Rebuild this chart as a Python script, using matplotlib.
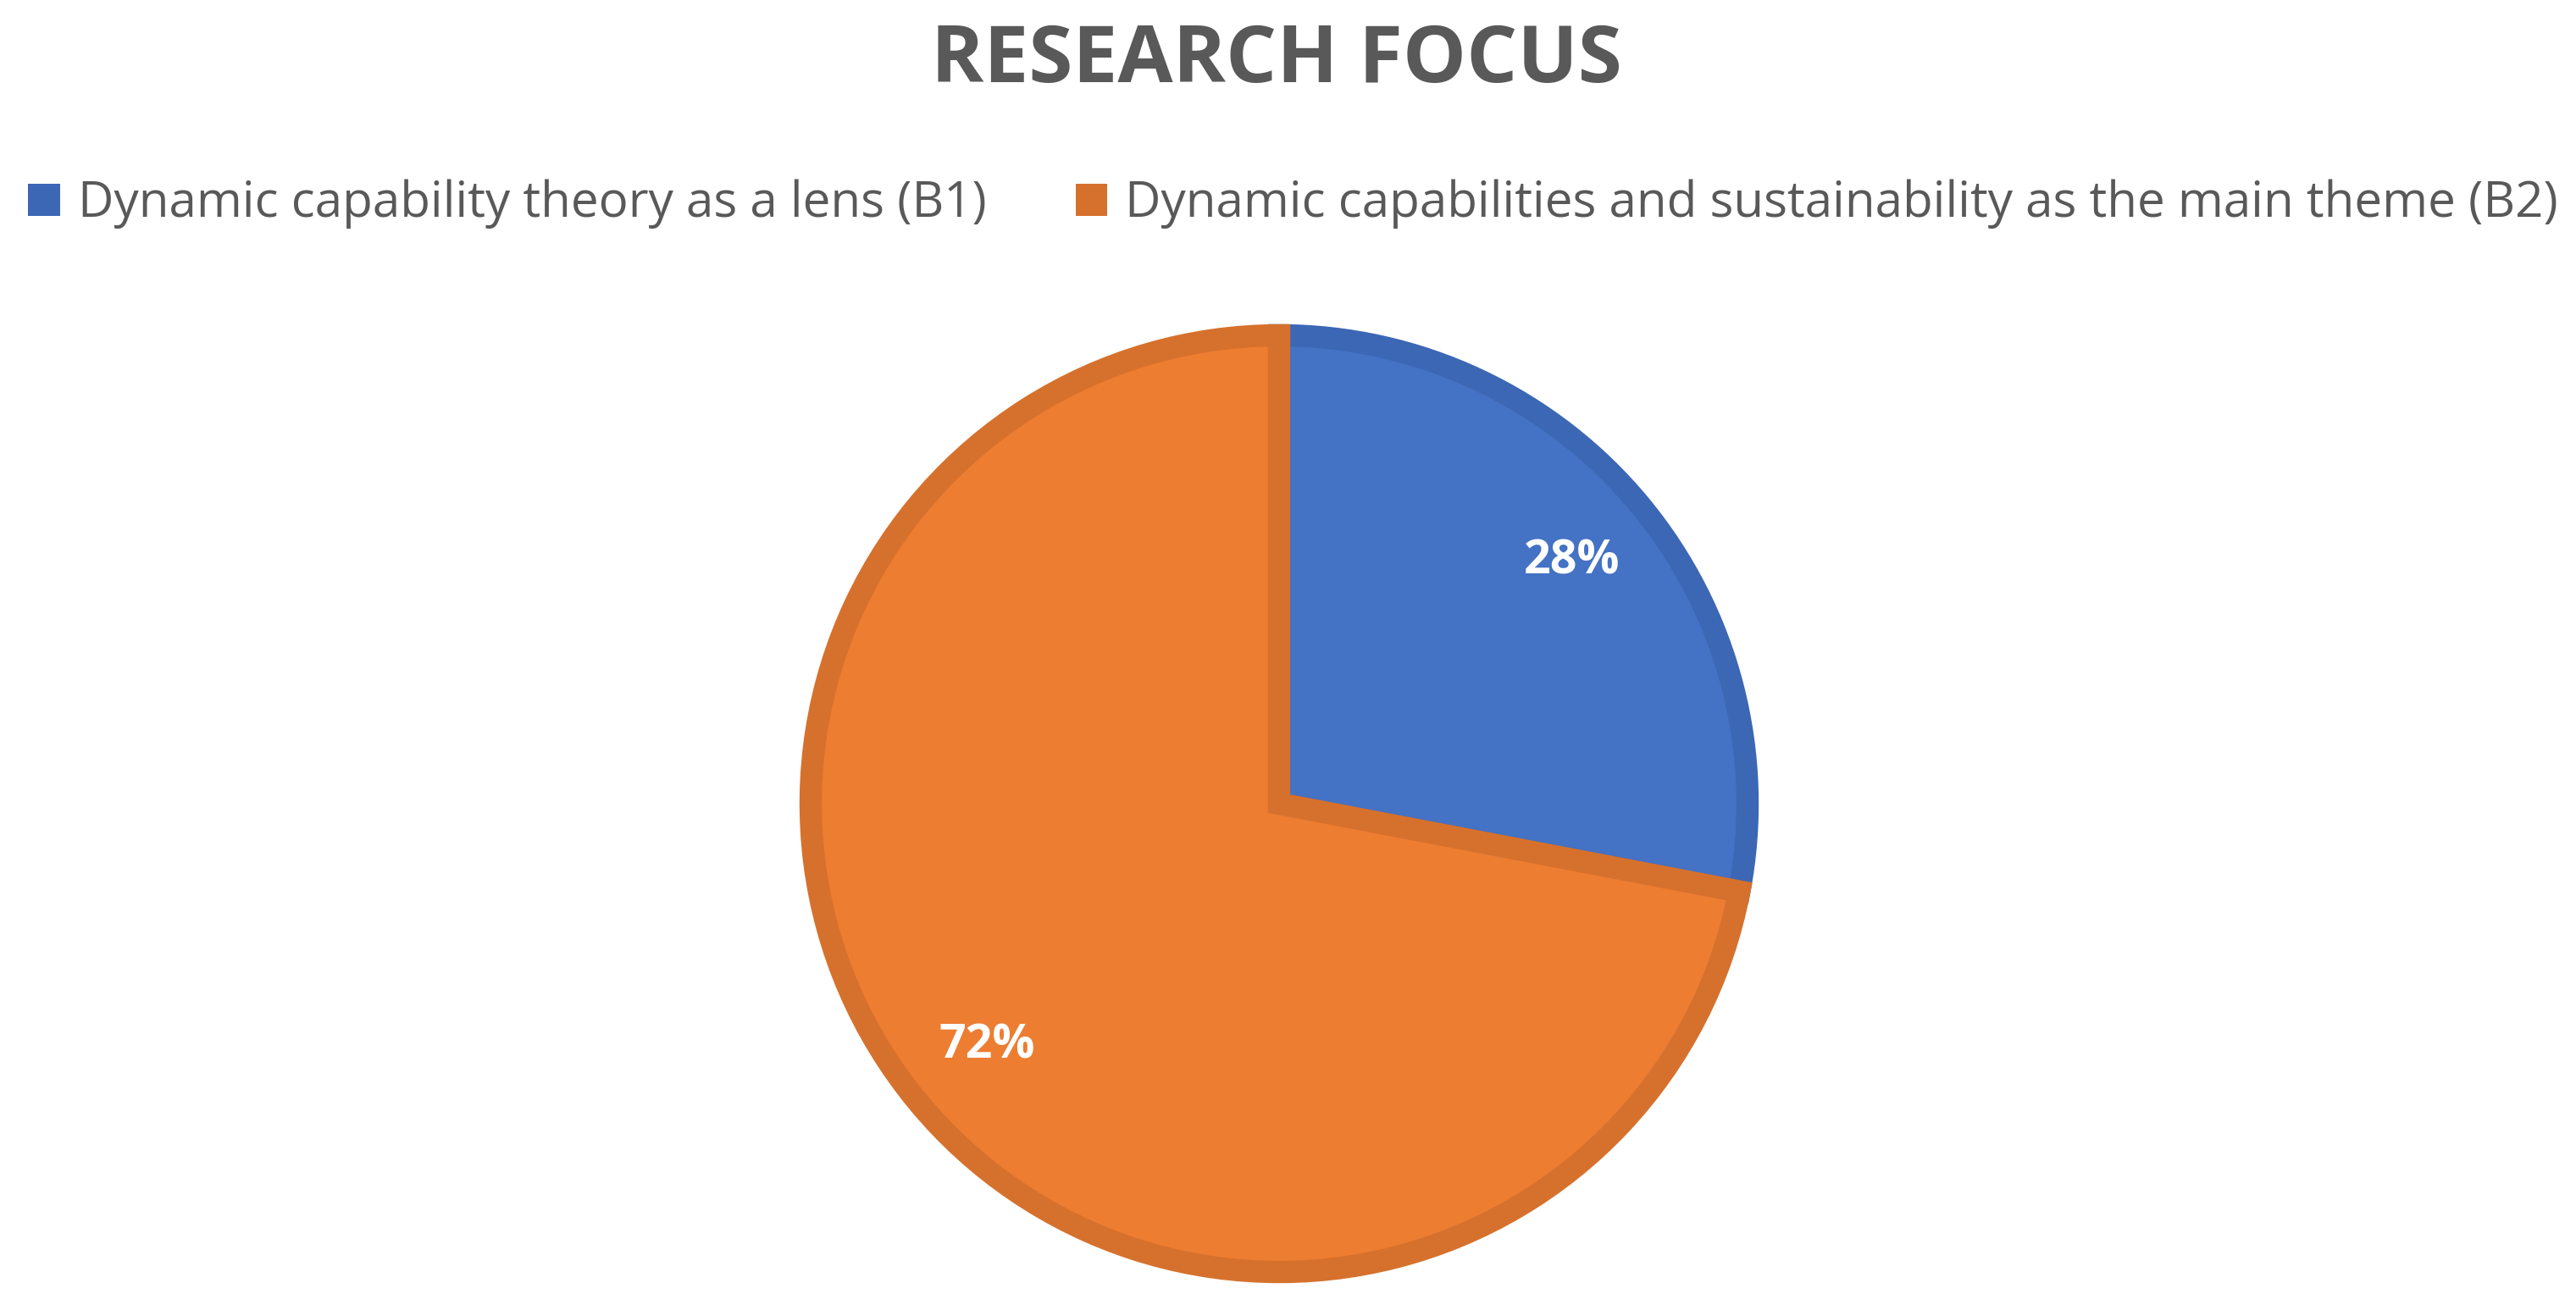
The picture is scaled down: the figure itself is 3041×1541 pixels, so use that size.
import matplotlib.pyplot as plt
from matplotlib.patches import Patch

# Data
labels = ["Dynamic capability theory as a lens (B1)",
          "Dynamic capabilities and sustainability as the main theme (B2)"]
values = [28, 72]
colors = ["#4472C4", "#ED7D31"]
edge_colors = ["#3C67B5", "#D6712D"]

plt.rcParams['font.family'] = ['Open Sans', 'DejaVu Sans']

fig = plt.figure(figsize=(30.41, 15.41), dpi=100)
ax = fig.add_axes([0, 0, 1, 1])

# Pie, centred where the reference draws it (pixel units)
wedges, texts, autotexts = ax.pie(
    values, colors=colors, startangle=90, counterclock=False,
    explode=[0.03, 0], radius=553, center=(1510, 592),
    autopct='%1.0f%%', pctdistance=0.81,
    wedgeprops=dict(linewidth=19, joinstyle='miter'),
    textprops=dict(color='white', fontsize=40, fontweight='bold'))
for w, ec in zip(wedges, edge_colors):
    w.set_edgecolor(ec)

ax.set_xlim(0, 3041)
ax.set_ylim(0, 1541)
ax.set_aspect('equal')
ax.axis('off')

# Title
fig.text(0.4956, 1 - 97 / 1541, "RESEARCH FOCUS", ha='center', va='baseline',
         fontsize=68, fontweight='bold', color='#595959')

# Legend
handles = [Patch(facecolor=ec, edgecolor='none') for ec in edge_colors]
fig.legend(handles, labels, loc='upper left', ncol=2, frameon=False,
           bbox_to_anchor=(0.011, 1 - 212 / 1541), fontsize=42,
           labelcolor='#595959', handlelength=0.65, handleheight=0.65,
           handletextpad=0.35, columnspacing=1.8,
           borderpad=0, borderaxespad=0)

fig.savefig("out.png", dpi=100, facecolor='white')
